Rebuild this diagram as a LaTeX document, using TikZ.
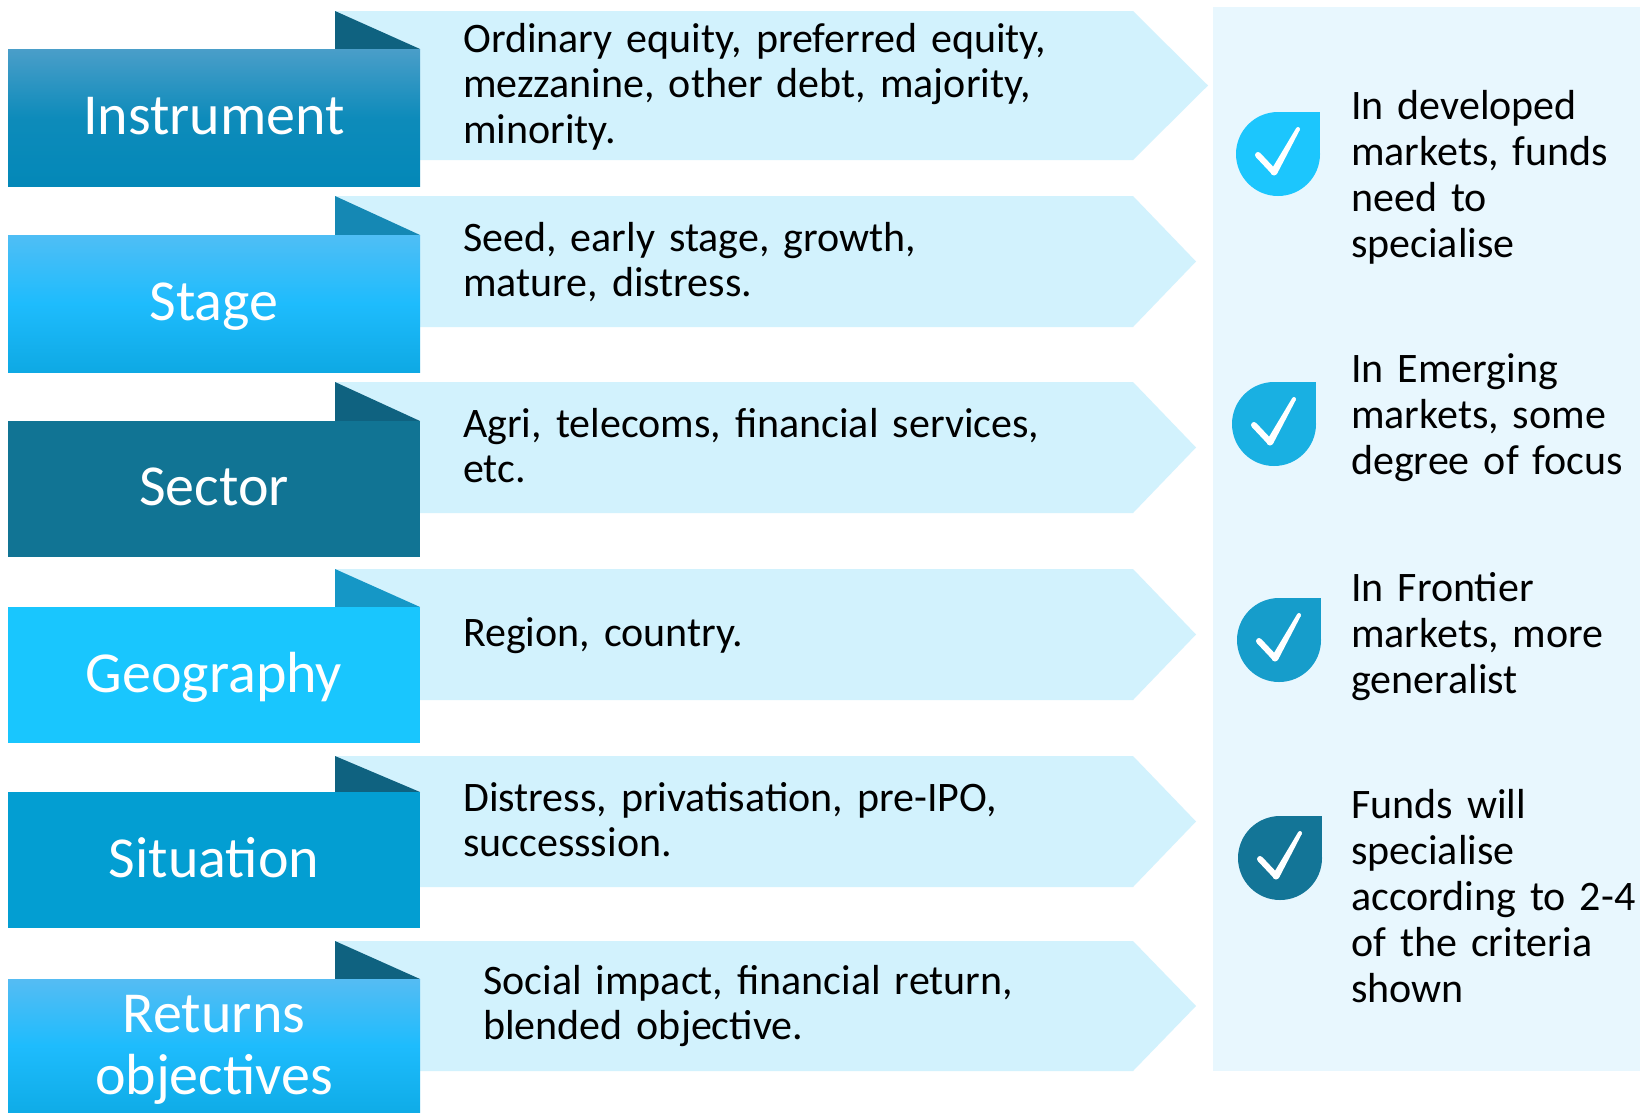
\documentclass[tikz,border=0pt]{standalone}
\usepackage{fontspec}
\setmainfont{Carlito}
\definecolor{arrowfill}{HTML}{D2F2FD}
\definecolor{panelfill}{HTML}{E8F7FE}
\definecolor{folddark}{HTML}{0F6280}
\definecolor{foldmid}{HTML}{1588B4}
\definecolor{foldgeo}{HTML}{1597C6}
\definecolor{instrtop}{HTML}{4A9EC9}
\definecolor{instrbot}{HTML}{0388B8}
\definecolor{stagetop}{HTML}{4FBEF5}
\definecolor{stagemid}{HTML}{1EBCFD}
\definecolor{stagebot}{HTML}{0EA9E4}
\definecolor{sectorfill}{HTML}{117494}
\definecolor{geofill}{HTML}{19C6FE}
\definecolor{situfill}{HTML}{039ED2}
\definecolor{rettop}{HTML}{55BCF3}
\definecolor{retbot}{HTML}{0FACE7}
\definecolor{drop1}{HTML}{1CC6FD}
\definecolor{drop2}{HTML}{19B0E2}
\definecolor{drop3}{HTML}{169DCB}
\definecolor{drop4}{HTML}{137597}
\tikzset{
  labeltext/.style={text=white, font=\fontsize{58}{62}\selectfont, inner sep=0pt, anchor=base, text width=400pt, align=center},
  midtext/.style={text=black, font=\fontsize{42}{45.5}\selectfont, inner sep=0pt, anchor=base west, text width=720pt, align=left},
  righttext/.style={text=black, font=\fontsize{42}{46}\selectfont, inner sep=0pt, anchor=base west, text width=290pt, align=left},
  checkline/.style={white, line width=6pt, line cap=round, line join=round}
}
\begin{document}
\begin{tikzpicture}[x=1pt,y=-1pt]
\useasboundingbox (0,0) rectangle (1640,1112);
\fill[white] (0,0) rectangle (1640,1112);
% right panel
\fill[panelfill] (1213,7) rectangle (1640,1071);
% light arrows
\foreach \t/\b/\tip in {11/160/1208, 196/327/1196, 382/513/1196, 569/700/1196, 756/887/1196, 941/1071/1196}{
  \fill[arrowfill] (335,\t) -- (1133,\t) -- (\tip,{(\t+\b)/2}) -- (1133,\b) -- (335,\b) -- cycle;
}
% folds
\fill[folddark] (335,11) -- (420,49) -- (335,49) -- cycle;
\fill[foldmid] (335,196) -- (420,235) -- (335,235) -- cycle;
\fill[folddark] (335,382) -- (420,421) -- (335,421) -- cycle;
\fill[foldgeo] (335,569) -- (420,607) -- (335,607) -- cycle;
\fill[folddark] (335,756) -- (420,792) -- (335,792) -- cycle;
\fill[folddark] (335,941) -- (420,979) -- (335,979) -- cycle;
% label boxes
\shade[top color=instrtop, bottom color=instrbot, middle color=instrbot!85!instrtop] (8,49) rectangle (420,186);
\shade[top color=stagetop, bottom color=stagebot, middle color=stagemid] (8,235) rectangle (420,372);
\fill[sectorfill] (8,421) rectangle (420,557);
\fill[geofill] (8,607) rectangle (420,743);
\fill[situfill] (8,792) rectangle (420,928);
\shade[top color=rettop, bottom color=retbot, middle color=stagemid] (8,979) rectangle (420,1112);
% labels
\node[labeltext] (lInstr) at (214,134) {Instrument};
\node[labeltext] (lStage) at (214,320) {Stage};
\node[labeltext] (lSector) at (214,505) {Sector};
\node[labeltext] (lGeo) at (214,692) {Geography};
\node[labeltext] (lSitu) at (214,877) {Situation};
\node[labeltext] (lRet) at (214,1032) {Returns\\objectives};
% middle texts
\node[midtext] (tInstr) at (463,52) {Ordinary equity, preferred equity,\\mezzanine, other debt, majority,\\minority.};
\node[midtext] (tStage) at (463,251) {Seed, early stage, growth,\\mature, distress.};
\node[midtext] (tSector) at (463,437) {Agri, telecoms, financial services,\\etc.};
\node[midtext] (tGeo) at (463,646) {Region, country.};
\node[midtext] (tSitu) at (463,811) {Distress, privatisation, pre-IPO,\\successsion.};
\node[midtext] (tRet) at (483,994) {Social impact, financial return,\\blended objective.};
% drops with checks
\foreach \cx/\cy/\col in {1278/154/drop1, 1274/424/drop2, 1279/640/drop3, 1280/858/drop4}{
  \fill[\col] (\cx,\cy) circle[radius=42];
  \fill[\col] (\cx,\cy) rectangle ({\cx+42},{\cy-42});
  \draw[checkline] ({\cx-20},{\cy+1}) -- ({\cx-4},{\cy+18});
  \fill[white] ({\cx-0.94},{\cy+19.71}) -- ({\cx+21.75},{\cy-24.02}) -- ({\cx+18.25},{\cy-25.98}) -- ({\cx-7.06},{\cy+16.29}) -- cycle;
  \fill[white] ({\cx+20},{\cy-25}) circle[radius=2];
  \fill[white] ({\cx-4},{\cy+18}) circle[radius=3.5];
}
% right texts
\node[righttext] (r1) at (1351,119) {In developed\\markets, funds\\need to\\specialise};
\node[righttext] (r2) at (1351,382) {In Emerging\\markets, some\\degree of focus};
\node[righttext] (r3) at (1351,601) {In Frontier\\markets, more\\generalist};
\node[righttext] (r4) at (1351,818) {Funds will\\specialise\\according to 2-4\\of the criteria\\shown};
\end{tikzpicture}
\end{document}
